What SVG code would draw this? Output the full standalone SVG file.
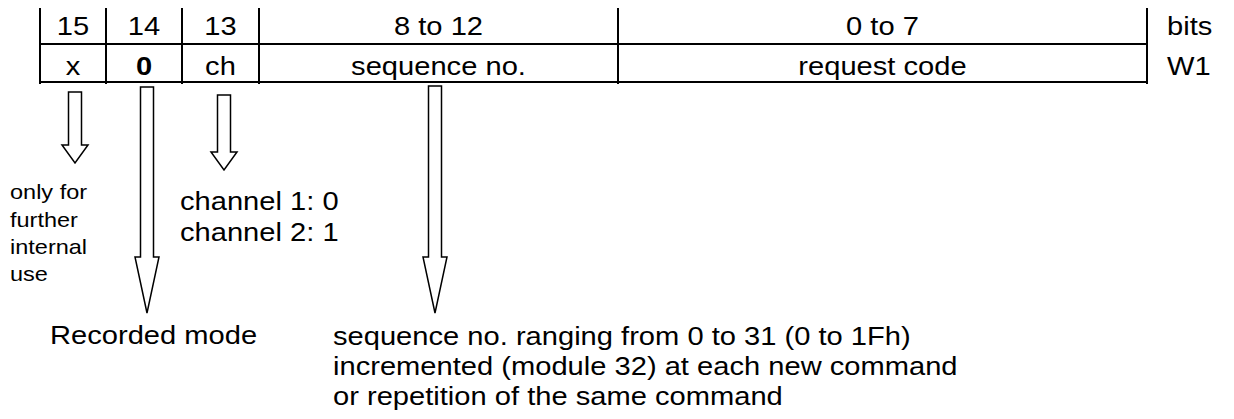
<svg xmlns="http://www.w3.org/2000/svg" width="1234" height="419" viewBox="0 0 1234 419">
<style>
.t{font-family:"Liberation Sans",Arial,sans-serif;font-size:26px;fill:#000}
.s{font-family:"Liberation Sans",Arial,sans-serif;font-size:21px;fill:#000}
.c{text-anchor:middle}
.ln{stroke:#000;stroke-width:2;fill:none}
.arr{fill:#fff;stroke:#000;stroke-width:1.5;stroke-linejoin:miter}
</style>
<rect width="1234" height="419" fill="#fff"/>
<g id="table">
<line class="ln" x1="40" y1="8" x2="40" y2="84"/>
<line class="ln" x1="106" y1="8" x2="106" y2="84"/>
<line class="ln" x1="182" y1="8" x2="182" y2="84"/>
<line class="ln" x1="259" y1="8" x2="259" y2="84"/>
<line class="ln" x1="618" y1="8" x2="618" y2="84"/>
<line class="ln" x1="1147" y1="8" x2="1147" y2="84"/>
<line class="ln" x1="40" y1="44" x2="1147" y2="44"/>
<line class="ln" x1="40" y1="82" x2="1147" y2="82"/>
<text class="t c" transform="translate(73 35) scale(1.12 1)">15</text>
<text class="t c" transform="translate(144 35) scale(1.12 1)">14</text>
<text class="t c" transform="translate(220.5 35) scale(1.12 1)">13</text>
<text class="t c" transform="translate(438.5 35) scale(1.12 1)">8 to 12</text>
<text class="t c" transform="translate(882.5 35) scale(1.12 1)">0 to 7</text>
<text class="t" transform="translate(1167 35) scale(1.12 1)">bits</text>
<text class="t c" transform="translate(73 75) scale(1.12 1)">x</text>
<text class="t c" transform="translate(144 75) scale(1.12 1)" font-weight="bold">0</text>
<text class="t c" transform="translate(220.5 75) scale(1.12 1)">ch</text>
<text class="t c" transform="translate(438.5 75) scale(1.12 1)">sequence no.</text>
<text class="t c" transform="translate(882.5 75) scale(1.12 1)">request code</text>
<text class="t" transform="translate(1167 75) scale(1.12 1)">W1</text>
</g>
<g id="connectors">
<polygon class="arr" points="68.5,92 81.5,92 81.5,145 88,145 75,163 62,145 68.5,145"/>
<polygon class="arr" points="140.5,87 153.5,87 153.5,257 159,257 147,313 135,257 140.5,257"/>
<polygon class="arr" points="217.5,95 230.5,95 230.5,152 237,152 224,170 211,152 217.5,152"/>
<polygon class="arr" points="428.5,86 441.5,86 441.5,257 447,257 435,313 423,257 428.5,257"/>
</g>
<g id="note-x">
<text class="s" transform="translate(10 199) scale(1.12 1)">only for</text>
<text class="s" transform="translate(10 226.5) scale(1.12 1)">further</text>
<text class="s" transform="translate(10 254) scale(1.12 1)">internal</text>
<text class="s" transform="translate(10 281) scale(1.12 1)">use</text>
</g>
<g id="note-ch">
<text class="t" transform="translate(180 210) scale(1.12 1)">channel 1: 0</text>
<text class="t" transform="translate(180 241) scale(1.12 1)">channel 2: 1</text>
</g>
<g id="note-mode">
<text class="t" transform="translate(50 344) scale(1.12 1)">Recorded mode</text>
</g>
<g id="note-seq">
<text class="t" transform="translate(333 345) scale(1.12 1)">sequence no. ranging from 0 to 31 (0 to 1Fh)</text>
<text class="t" transform="translate(333 375) scale(1.12 1)">incremented (module 32) at each new command</text>
<text class="t" transform="translate(333 405) scale(1.12 1)">or repetition of the same command</text>
</g>
</svg>
